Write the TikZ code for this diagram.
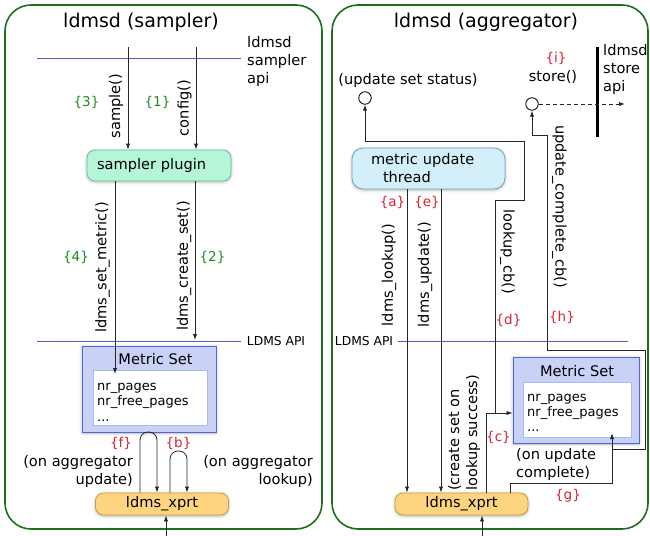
\documentclass[tikz,border=0pt]{standalone}
\usepackage{fontspec}
\setmainfont{DejaVu Sans}
\usetikzlibrary{arrows.meta,shadows.blur}
\definecolor{panelgreen}{HTML}{1E6E1E}
\definecolor{apiblue}{HTML}{5060A8}
\definecolor{labgreen}{HTML}{1F8A1F}
\definecolor{labred}{HTML}{D42535}
\definecolor{plugfill}{HTML}{B5F5D8}
\definecolor{plugdraw}{HTML}{6BBF98}
\definecolor{threadfill}{HTML}{D3F0FA}
\definecolor{threaddraw}{HTML}{6CA5B5}
\definecolor{xprtfill}{HTML}{FFD47F}
\definecolor{xprtdraw}{HTML}{C29A48}
\definecolor{msfill}{HTML}{C9D1F7}
\definecolor{msdraw}{HTML}{5366D8}
\definecolor{msinnerdraw}{HTML}{A9B9F4}
\begin{document}
\begin{tikzpicture}[x=1pt,y=-1pt,
  font=\fontsize{14.6}{18}\selectfont,
  arr/.style={draw=black!85, line width=0.8pt, -{Latex[length=6pt,width=4.2pt]}},
  panel/.style={draw=panelgreen, line width=1.6pt, rounded corners=26pt},
  apiline/.style={draw=apiblue, line width=0.9pt},
  lbl/.style={inner sep=0pt},
  grnlab/.style={inner sep=0pt, text=labgreen, font=\fontsize{13.5}{16}\selectfont},
  redlab/.style={inner sep=0pt, text=labred, font=\fontsize{13.5}{16}\selectfont},
  itemtxt/.style={inner sep=0pt, anchor=base west, font=\fontsize{13}{16}\selectfont},
  soft/.style={blur shadow={shadow xshift=0pt, shadow yshift=-1pt, shadow blur radius=3pt, shadow opacity=30}},
  plugin/.style={soft, draw=plugdraw, fill=plugfill, rounded corners=8pt, line width=0.8pt,
     minimum width=144pt, minimum height=31pt, text width=124pt, inner xsep=10pt, align=left},
  thread/.style={soft, draw=threaddraw, fill=threadfill, rounded corners=11pt, line width=0.8pt,
     minimum width=153pt, minimum height=41pt, text width=115pt, inner xsep=19pt, align=left},
  xprt/.style={soft, draw=xprtdraw, fill=xprtfill, rounded corners=8pt, line width=0.8pt,
     minimum width=133pt, minimum height=22pt, inner sep=0pt},
  msouter/.style={soft, draw=msdraw, fill=msfill, line width=0.9pt, inner sep=0pt},
  msinner/.style={draw=msinnerdraw, fill=white, line width=0.8pt, inner sep=0pt},
  port/.style={circle, draw=black, line width=0.8pt, fill=white, minimum size=12.5pt, inner sep=0pt}
]
\useasboundingbox (0,0) rectangle (650,535);

% panels
\draw[panel] (5,5) rectangle (322,529);
\draw[panel] (332,5) rectangle (648,529);

% titles
\node[lbl, font=\fontsize{19}{22}\selectfont] (titleL) at (141,22) {ldmsd (sampler)};
\node[lbl, font=\fontsize{19}{22}\selectfont] (titleR) at (486,22) {ldmsd (aggregator)};

% ================= LEFT: sampler =================
\draw[apiline] (37,58) -- (241,58);
\node[lbl, align=left, anchor=west] (sapi) at (247,61) {ldmsd\\sampler\\api};

\node[plugin] (plug) at (159,165.5) {sampler plugin};

\coordinate (s3) at (128,47);
\coordinate (s1) at (196,47);
\draw[arr] (s3) -- (s3 |- plug.north);
\draw[arr] (s1) -- (s1 |- plug.north);
\node[lbl, rotate=90] (lsample) at (116,106) {sample()};
\node[lbl, rotate=90] (lconfig) at (184.5,108) {config()};
\node[grnlab] (g3) at (86.5,102) {\{3\}};
\node[grnlab] (g1) at (157.5,102) {\{1\}};

% metric set (left)
\node[msouter, minimum width=134pt, minimum height=86pt] (msL) at (149,389) {};
\node[msinner, minimum width=114pt, minimum height=55pt] (msLin) at (150,397.5) {};
\node[lbl] (msLt) at (155.5,359.5) {Metric Set};
\node[itemtxt] (msL1) at (97,390) {nr\_pages};
\node[itemtxt] (msL2) at (97,405.5) {nr\_free\_pages};
\node[itemtxt] (msL3) at (97,421) {...};

\draw[apiline] (37,341) -- (241,341);
\node[lbl, font=\fontsize{12.3}{15}\selectfont] (apiL) at (276,341) {LDMS API};

\coordinate (m4) at (115,374);
\coordinate (c2) at (195,340);
\draw[arr] (m4 |- plug.south) -- (m4);
\draw[arr] (c2 |- plug.south) -- (c2);
\node[lbl, rotate=90] (lsetm) at (102.5,267.5) {ldms\_set\_metric()};
\node[lbl, rotate=90] (lcreate) at (184,266) {ldms\_create\_set()};
\node[grnlab] (g4) at (76,257) {\{4\}};
\node[grnlab] (g2) at (212.5,257) {\{2\}};

% xprt (left)
\node[xprt] (xprtL) at (162,504) {ldms\_xprt};
\coordinate (f1) at (140,432);
\coordinate (f2) at (157,432);
\coordinate (b1) at (170,451);
\coordinate (b2) at (187,451);
\draw[arr, rounded corners=8pt] (f1 |- xprtL.north) -- (f1) -- (f2) -- (f2 |- xprtL.north);
\draw[arr, rounded corners=8pt] (b1 |- xprtL.north) -- (b1) -- (b2) -- (b2 |- xprtL.north);
\node[redlab] (rf) at (121,443) {\{f\}};
\node[redlab] (rb) at (178.5,443) {\{b\}};
\node[lbl, align=right, anchor=east] (onupd) at (133,471) {(on aggregator\\update)};
\node[lbl, align=right, anchor=east] (onlook) at (313,471) {(on aggregator\\lookup)};
\coordinate (inL) at (166,536);
\draw[arr] (inL) -- (inL |- xprtL.south);

% ================= RIGHT: aggregator =================
\node[lbl] (uss) at (408,80) {(update set status)};
\node[port] (us) at (365,98) {};
\node[redlab] (ri) at (556,58.5) {\{i\}};
\node[lbl] (store) at (553,77) {store()};
\node[port] (st) at (532,104) {};
\draw[line width=3pt] (597,47) -- (597,137);
\node[lbl, align=left, anchor=west] (stapi) at (603,69) {ldmsd\\store\\api};
\coordinate (stEnd) at (625,104);
\draw[arr, dashed, dash pattern=on 4pt off 3pt] (st.east) -- (stEnd);

\node[thread] (thread) at (428.5,168.5) {metric update\\\hspace*{12pt}thread};
\node[xprt] (xprtR) at (461.5,504) {ldms\_xprt};

\draw[apiline] (398,341) -- (628,341);
\node[lbl, font=\fontsize{12.3}{15}\selectfont] (apiR) at (364,341) {LDMS API};

\coordinate (xa) at (407,300);
\coordinate (xe) at (441,300);
\draw[arr] (xa |- thread.south) -- (xa |- xprtR.north);
\draw[arr] (xe |- thread.south) -- (xe |- xprtR.north);
\node[lbl, rotate=90] (llookup) at (389,275) {ldms\_lookup()};
\node[lbl, rotate=90] (lupdate) at (425,274.5) {ldms\_update()};
\node[redlab] (ra) at (392.5,202) {\{a\}};
\node[redlab] (re) at (427,202) {\{e\}};

% metric set (right)
\node[msouter, minimum width=126pt, minimum height=86pt] (msR) at (576,400) {};
\node[msinner, minimum width=108pt, minimum height=55pt] (msRin) at (577,409.5) {};
\node[lbl] (msRt) at (577,371) {Metric Set};
\node[itemtxt] (msR1) at (527,401) {nr\_pages};
\node[itemtxt] (msR2) at (527,416.5) {nr\_free\_pages};
\node[itemtxt] (msR3) at (527,431.5) {...};

% lookup callback {c},{d}
\coordinate (cA) at (486,413);
\coordinate (j1) at (495,413);
\draw[arr] (cA |- xprtR.north) -- (cA) -- (cA -| msR.west);
\draw[arr] (j1) -- ++(0,-213) -- ++(29,0) -- ++(0,-59) -| (us.south);
\node[lbl, rotate=-90] (llcb) at (507.5,251.5) {lookup\_cb()};
\node[redlab] (rd) at (508.5,320) {\{d\}};
\node[redlab] (rc) at (498.5,437) {\{c\}};
\node[lbl, rotate=90, align=left, anchor=west] (lcreateset) at (464,491) {(create set on\\lookup success)};

% update complete {g},{h}
\coordinate (gA) at (510,483);
\coordinate (gB) at (612,483);
\coordinate (gC) at (612,433);
\coordinate (hA) at (612,449);
\draw[arr] (gA |- xprtR.north) -- (gA) -- (gB) -- (gC);
\draw[arr] (hA) -- ++(33,0) -- ++(0,-99) -- ++(-98,0) -- ++(0,-215) -| (st.south);
\node[lbl, rotate=-90] (lucb) at (559.5,206.5) {update\_complete\_cb()};
\node[redlab] (rh) at (562,317) {\{h\}};
\node[redlab] (rg) at (568,496) {\{g\}};
\node[lbl, align=left, anchor=west] (oncomp) at (516,464) {(on update\\complete)};

\coordinate (inR) at (482,536);
\draw[arr] (inR) -- (inR |- xprtR.south);
\end{tikzpicture}
\end{document}
